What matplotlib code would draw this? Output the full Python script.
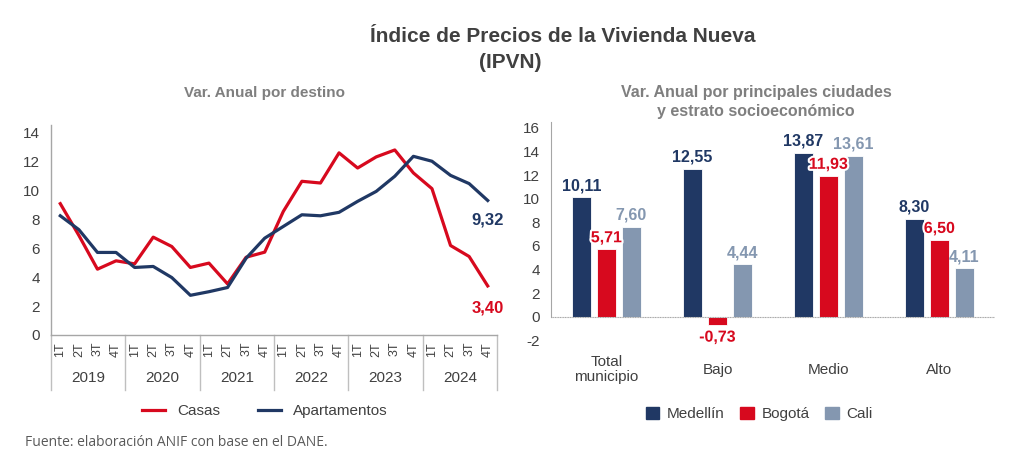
import numpy as np
import matplotlib.pyplot as plt
import matplotlib.patheffects as pe
from matplotlib.lines import Line2D
from matplotlib.patches import Patch

# datos
trimestres = ['1T', '2T', '3T', '4T'] * 6
anios = ['2019', '2020', '2021', '2022', '2023', '2024']
casas = [9.1, 6.9, 4.56, 5.14, 4.93, 6.78, 6.13, 4.68, 4.98, 3.54, 5.39, 5.74,
         8.56, 10.65, 10.53, 12.62, 11.57, 12.34, 12.82, 11.23, 10.14, 6.2, 5.44, 3.40]
apartamentos = [8.26, 7.3, 5.72, 5.72, 4.68, 4.75, 3.98, 2.75, 3.0, 3.29, 5.32, 6.71,
                7.52, 8.33, 8.26, 8.5, 9.26, 9.95, 11.0, 12.38, 12.04, 11.06, 10.49, 9.32]

categorias = ['Total\nmunicipio', 'Bajo', 'Medio', 'Alto']
ciudades = ['Medellín', 'Bogotá', 'Cali']
medellin = [10.11, 12.55, 13.87, 8.30]
bogota = [5.71, -0.73, 11.93, 6.50]
cali = [7.60, 4.44, 13.61, 4.11]

ROJO = '#d7091e'
AZUL = '#203864'
GRIS_AZUL = '#8497b0'
TXT = '#404040'
plt.rcParams['font.family'] = ['Liberation Sans', 'DejaVu Sans']
plt.rcParams['axes.unicode_minus'] = False

fig = plt.figure(figsize=(10.24, 4.61), dpi=100)
W, H = 1024, 461

def fx(px):
    return px / W

def fy(py):
    return 1 - py / H

fig.text(fx(563), fy(37), 'Índice de Precios de la Vivienda Nueva', ha='center', va='center',
         fontsize=15, fontweight='bold', color=TXT)
fig.text(fx(510), fy(63), '(IPVN)', ha='center', va='center',
         fontsize=15, fontweight='bold', color=TXT)
fig.text(fx(265), fy(93), 'Var. Anual por destino', ha='center', va='center',
         fontsize=11, fontweight='bold', color='#7f7f7f')
fig.text(fx(756), fy(102), 'Var. Anual por principales ciudades\ny estrato socioeconómico',
         ha='center', va='center', fontsize=11.5, fontweight='bold', color='#7f7f7f',
         linespacing=1.3)

# izquierda: lineas
ax1 = fig.add_axes([fx(51), fy(335), (497 - 51) / W, (335 - 125) / H])
x = np.arange(len(casas))
ax1.plot(x, casas, color=ROJO, lw=2.3, label='Casas')
ax1.plot(x, apartamentos, color=AZUL, lw=2.3, label='Apartamentos')
ax1.set_xlim(-0.5, 23.5)
ax1.set_ylim(0, 14.55)
ax1.set_yticks(range(0, 15, 2))
ax1.tick_params(axis='y', length=0, pad=8, labelsize=11, labelcolor=TXT)
ax1.set_xticks(x)
ax1.set_xticklabels(trimestres, rotation=90, fontsize=9, color=TXT)
ax1.tick_params(axis='x', length=0, pad=5)
for s in ['top', 'right']:
    ax1.spines[s].set_visible(False)
for s in ['left', 'bottom']:
    ax1.spines[s].set_color('#a6a6a6')
    ax1.spines[s].set_linewidth(1)
tr = ax1.get_xaxis_transform()
for i in range(7):
    ax1.plot([i * 4 - 0.5] * 2, [0, -0.262], transform=tr, color='#bfbfbf', lw=1, clip_on=False)
for i, a in enumerate(anios):
    ax1.text(i * 4 + 1.5, -0.207, a, transform=tr, ha='center', va='center', fontsize=11, color=TXT)
ax1.text(23, 8.0, '9,32', ha='center', va='center', fontsize=12, fontweight='bold', color=AZUL)
ax1.text(23, 1.9, '3,40', ha='center', va='center', fontsize=12, fontweight='bold', color=ROJO)

fig.legend(handles=[Line2D([], [], color=ROJO, lw=2.3), Line2D([], [], color=AZUL, lw=2.3)],
           labels=['Casas', 'Apartamentos'], loc='center', bbox_to_anchor=(fx(265), fy(411)),
           ncol=2, frameon=False, fontsize=11, handlelength=1.5, columnspacing=2.5,
           labelcolor=TXT)

# derecha: barras
ax2 = fig.add_axes([fx(551), fy(344), (995 - 551) / W, (344 - 122) / H])
xc = np.arange(len(categorias))
bw = 0.17
off = 0.225
series = [(medellin, AZUL, -off), (bogota, ROJO, 0), (cali, GRIS_AZUL, off)]
for vals, col, o in series:
    bars = ax2.bar(xc + o, vals, bw, color=col, edgecolor='white', linewidth=0.6)
    for b, v in zip(bars, vals):
        txt = f'{v:.2f}'.replace('.', ',')
        xb = b.get_x() + b.get_width() / 2
        if v >= 0:
            t = ax2.annotate(txt, (xb, v), xytext=(0, 3), textcoords='offset points',
                             ha='center', va='bottom', fontsize=11.5, fontweight='bold', color=col)
        else:
            t = ax2.annotate(txt, (xb, v), xytext=(0, -3), textcoords='offset points',
                             ha='center', va='top', fontsize=11.5, fontweight='bold', color=col)
        if col == ROJO:
            t.set_path_effects([pe.withStroke(linewidth=3, foreground='white')])
ax2.axhline(0, color='#a6a6a6', lw=0.8, ls=(0, (1, 0.5)))
ax2.set_xlim(-0.5, 3.5)
ax2.set_ylim(-2.3, 16.5)
ax2.set_yticks(range(-2, 17, 2))
ax2.tick_params(axis='y', length=0, pad=8, labelsize=11, labelcolor=TXT)
ax2.set_xticks([])
for s in ['top', 'right', 'bottom']:
    ax2.spines[s].set_visible(False)
ax2.spines['left'].set_color('#a6a6a6')
ax2.spines['left'].set_bounds(0, 16.5)
tr2 = ax2.get_xaxis_transform()
for i, c in enumerate(categorias):
    ax2.text(i, -0.115, c, transform=tr2, ha='center', va='center', fontsize=11,
             color=TXT, linespacing=1.05)

fig.legend(handles=[Patch(color=AZUL), Patch(color=ROJO), Patch(color=GRIS_AZUL)],
           labels=ciudades, loc='center', bbox_to_anchor=(fx(759), fy(414)), ncol=3,
           frameon=False, fontsize=11, handlelength=0.9, handleheight=0.9,
           handletextpad=0.5, columnspacing=1.0, labelcolor=TXT)

fig.text(fx(25), fy(442), 'Fuente: elaboración ANIF con base en el DANE.', ha='left',
         va='center', fontsize=10, color='#595959', family=['Open Sans', 'DejaVu Sans'])

fig.savefig('out.png', dpi=100, facecolor='white')
